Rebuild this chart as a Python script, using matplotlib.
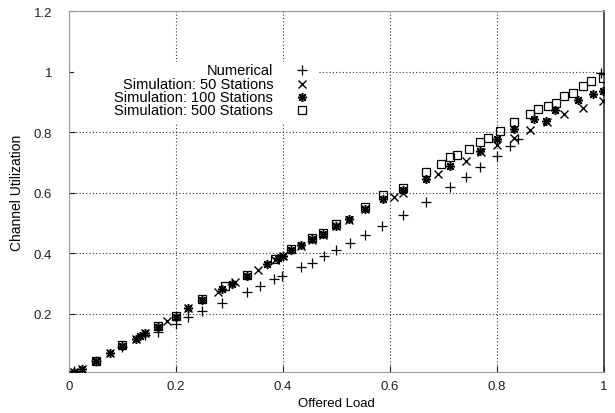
import numpy as np
from matplotlib import pyplot as plt

plt.rcParams['font.family'] = ['Liberation Sans', 'DejaVu Sans']

# Numerical model (+)
numLoad = [0.01, 0.05, 0.1, 0.143, 0.167, 0.2, 0.223, 0.249, 0.286, 0.333, 0.358, 0.384,
           0.399, 0.434, 0.455, 0.476, 0.5, 0.526, 0.554, 0.586, 0.624, 0.667, 0.713,
           0.742, 0.768, 0.8, 0.824, 0.84, 0.995]
numUtil = [0.01, 0.045, 0.09, 0.13, 0.14, 0.167, 0.19, 0.21, 0.235, 0.27, 0.29, 0.314,
           0.324, 0.355, 0.368, 0.39, 0.41, 0.432, 0.46, 0.489, 0.525, 0.568, 0.619,
           0.651, 0.684, 0.72, 0.754, 0.776, 0.995]

# Simulation, 50 stations (x)
sim50Load = [0.01, 0.025, 0.077, 0.125, 0.143, 0.184, 0.223, 0.279, 0.311, 0.354, 0.386,
             0.401, 0.434, 0.455, 0.475, 0.5, 0.524, 0.554, 0.607, 0.624, 0.689, 0.742,
             0.77, 0.8, 0.831, 0.861, 0.893, 0.925, 0.961, 0.998]
sim50Util = [0.008, 0.018, 0.069, 0.116, 0.135, 0.175, 0.218, 0.27, 0.303, 0.343, 0.378,
             0.39, 0.423, 0.443, 0.46, 0.488, 0.51, 0.545, 0.585, 0.6, 0.661, 0.704,
             0.733, 0.757, 0.78, 0.807, 0.833, 0.86, 0.879, 0.902]

# Simulation, 100 stations (asterisk)
sim100Load = [0.01, 0.024, 0.05, 0.077, 0.1, 0.125, 0.133, 0.143, 0.167, 0.2, 0.223, 0.249,
              0.287, 0.305, 0.333, 0.37, 0.39, 0.401, 0.415, 0.434, 0.455, 0.475, 0.5,
              0.524, 0.554, 0.588, 0.624, 0.667, 0.713, 0.768, 0.801, 0.831, 0.869,
              0.891, 0.908, 0.951, 0.979, 0.998]
sim100Util = [0.008, 0.017, 0.043, 0.069, 0.093, 0.116, 0.125, 0.136, 0.155, 0.19, 0.218,
              0.245, 0.28, 0.297, 0.325, 0.363, 0.385, 0.39, 0.41, 0.426, 0.446, 0.463,
              0.49, 0.512, 0.547, 0.578, 0.61, 0.645, 0.688, 0.737, 0.777, 0.81, 0.843,
              0.838, 0.873, 0.906, 0.926, 0.936]

# Simulation, 500 stations (square)
sim500Load = [0.05, 0.1, 0.167, 0.2, 0.249, 0.292, 0.333, 0.386, 0.415, 0.455, 0.475, 0.5,
              0.554, 0.588, 0.624, 0.667, 0.695, 0.713, 0.726, 0.747, 0.768, 0.783, 0.805,
              0.831, 0.861, 0.876, 0.895, 0.91, 0.925, 0.942, 0.961, 0.976, 0.998]
sim500Util = [0.045, 0.095, 0.158, 0.193, 0.247, 0.29, 0.327, 0.38, 0.413, 0.45, 0.468,
              0.495, 0.552, 0.592, 0.615, 0.668, 0.694, 0.717, 0.724, 0.744, 0.767, 0.78,
              0.803, 0.833, 0.86, 0.876, 0.886, 0.896, 0.918, 0.929, 0.952, 0.969, 0.979]

labels = ['Numerical', 'Simulation: 50 Stations', 'Simulation: 100 Stations',
          'Simulation: 500 Stations']

fig = plt.figure(figsize=(6.15, 4.14), dpi=100)
ax = fig.add_axes([0.112, 0.099, 0.870, 0.872])

styles = [dict(marker='+', ms=6.5, mew=0.9),
          dict(marker='x', ms=6, mew=1.0),
          dict(marker=(8, 2, 0), ms=6.5, mew=1.1),
          dict(marker='s', ms=5.5, mew=0.9, mfc='none')]
series = [(numLoad, numUtil), (sim50Load, sim50Util), (sim100Load, sim100Util),
          (sim500Load, sim500Util)]
for (xs, ys), st in zip(series, styles):
    ax.plot(xs, ys, ls='none', color='black', zorder=3, **st)

ax.set_xlim(0, 1)
ax.set_ylim(0.007, 1.2)
ax.set_xticks([0, 0.2, 0.4, 0.6, 0.8, 1])
ax.set_xticklabels(['0', '0.2', '0.4', '0.6', '0.8', '1'])
ax.set_yticks([0.2, 0.4, 0.6, 0.8, 1, 1.2])
ax.set_yticklabels(['0.2', '0.4', '0.6', '0.8', '1', '1.2'])
ax.tick_params(direction='in', length=4, width=0.8, labelsize=9.5, colors='#222222')
ax.tick_params(axis='y', pad=12)
ax.tick_params(axis='x', pad=6)
ax.grid(True, ls=(0, (1, 2)), lw=0.8, color='#333333')
for s in ['left', 'top', 'bottom']:
    ax.spines[s].set_color('#999999')
ax.spines['right'].set_color('#333333')
ax.spines['right'].set_linewidth(1.2)

ax.set_xlabel('Offered Load', fontsize=9.5, labelpad=3)
ax.set_ylabel('Channel Utilization', fontsize=10, labelpad=7)

# gnuplot style key: white box, right aligned text, sample marker to the right
ax.add_patch(plt.Rectangle((0.01, 0.69), 0.455, 0.17, transform=ax.transAxes,
                           facecolor='white', edgecolor='none', zorder=2))
rowY = [0.837, 0.798, 0.762, 0.726]
for lab, yy, st in zip(labels, rowY, styles):
    ax.text(0.382, yy, lab, transform=ax.transAxes, ha='right', va='center',
            fontsize=10.5, zorder=4)
    ax.plot([0.436], [yy], transform=ax.transAxes, ls='none', color='black',
            zorder=4, clip_on=False, **st)

fig.savefig('out.png', dpi=100)
